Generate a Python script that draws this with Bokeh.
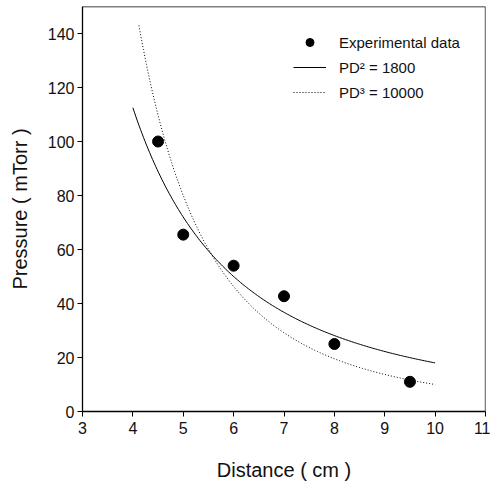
from bokeh.plotting import figure
from bokeh.models import Range1d, Legend, LegendItem, FixedTicker, Span
from bokeh.embed import file_html
from bokeh.resources import INLINE
import numpy as np

# Experimental data
distance = [4.5, 5.0, 6.0, 7.0, 8.0, 9.5]
pressure = [100.0, 65.5, 54.0, 42.7, 25.0, 11.0]

# Model curves (constants from the legend)
k2 = 1800.0
k3 = 10000.0
d2 = np.linspace(4.0, 10.0, 200)
d3 = np.linspace(4.12, 10.0, 200)
p2 = k2 / d2**2
p3 = k3 / d3**3

x_ticks = [3, 4, 5, 6, 7, 8, 9, 10, 11]
y_ticks = [0, 20, 40, 60, 80, 100, 120, 140]
x_min, x_max = 3, 11
y_min, y_max = 0, 150

FONT = "Liberation Sans"

p = figure(width=490, height=483, output_backend="svg", toolbar_location=None,
           x_range=Range1d(x_min, x_max), y_range=Range1d(y_min, y_max),
           min_border_left=82, min_border_right=5, min_border_top=6, min_border_bottom=72)

p.grid.visible = False
p.outline_line_color = None
p.background_fill_color = "white"
p.border_fill_color = "white"

for ax in (p.xaxis[0], p.yaxis[0]):
    ax.axis_line_color = "black"
    ax.axis_line_width = 1.3
    ax.major_tick_in = 0
    ax.major_tick_out = 5
    ax.major_tick_line_color = "black"
    ax.minor_tick_line_color = None
    ax.major_label_text_font = FONT
    ax.major_label_text_font_size = "16px"
    ax.major_label_text_color = "#111111"
    ax.axis_label_text_font = FONT
    ax.axis_label_text_font_size = "20px"
    ax.axis_label_text_font_style = "normal"
    ax.axis_label_text_color = "#111111"

p.xaxis.ticker = FixedTicker(ticks=x_ticks)
p.yaxis.ticker = FixedTicker(ticks=y_ticks)
p.xaxis.axis_label = "Distance ( cm )"
p.yaxis.axis_label = "Pressure ( mTorr )"
p.xaxis.major_label_standoff = 5
p.yaxis.major_label_standoff = 3
p.xaxis.axis_label_standoff = 22
p.yaxis.axis_label_standoff = 14

# frame box (top and right edges)
p.add_layout(Span(location=x_max, dimension="height", line_color="black", line_width=1.3))
p.add_layout(Span(location=y_max, dimension="width", line_color="black", line_width=1.3))

r_solid = p.line(d2, p2, line_color="black", line_width=1)
r_dot = p.line(d3, p3, line_color="black", line_width=1, line_dash="1 2")
r_pts = p.scatter(distance, pressure, size=11, color="black", marker="circle")

legend = Legend(items=[
    LegendItem(label="Experimental data", renderers=[r_pts]),
    LegendItem(label="PD\u00b2 = 1800", renderers=[r_solid]),
    LegendItem(label="PD\u00b3 = 10000", renderers=[r_dot]),
], location=(211, 309))
legend.border_line_color = None
legend.background_fill_alpha = 0
legend.padding = 0
legend.margin = 0
legend.spacing = 5
legend.glyph_width = 33
legend.label_standoff = 13
legend.label_text_font = FONT
legend.label_text_font_size = "15px"
legend.label_text_color = "#111111"
p.add_layout(legend)

open("out.html", "w").write(file_html(p, INLINE))
